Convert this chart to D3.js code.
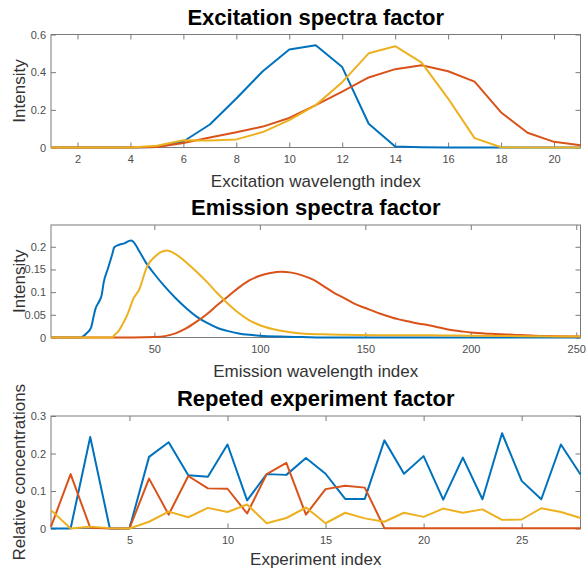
<!DOCTYPE html>
<html>
<head>
<meta charset="utf-8">
<script src="https://cdn.jsdelivr.net/npm/d3@7"></script>
<style>
  html, body { margin: 0; padding: 0; background: #fff; }
  svg { display: block; }
  text { font-family: "Liberation Sans", Arial, Helvetica, sans-serif; }
</style>
</head>
<body>
<script>
// ---------- DATA ----------
// Excitation spectra factor
const exIdx    = [1,2,3,4,5,6,7,8,9,10,11,12,13,14,15,16,17,18,19,20,21];
const exBlue   = [0,0,0,0,0.003,0.032,0.122,0.26,0.405,0.52,0.543,0.427,0.126,0.005,0.001,0,0,0,0,0,0];
const exRed    = [0,0,0,0,0.003,0.024,0.053,0.081,0.111,0.157,0.225,0.297,0.372,0.416,0.437,0.405,0.35,0.186,0.078,0.03,0.012];
const exYellow = [0,0,0,0,0.009,0.038,0.037,0.043,0.082,0.145,0.225,0.347,0.5,0.538,0.451,0.26,0.05,0.001,0,0,0];
const exTicksX = [2,4,6,8,10,12,14,16,18,20];
const exTicksY = [0,0.2,0.4,0.6];

// Emission spectra factor
const emBlueX = [1,15,16,18,20,21,22,24,25,26,28,30,31,33,36,38,39,40,43,46,50,55,60,65,70,75,80,85,90,95,100,110,120,130,252];
const emBlueY = [0,0,0.002,0.01,0.022,0.042,0.062,0.081,0.093,0.122,0.152,0.183,0.199,0.204,0.208,0.213,0.214,0.211,0.189,0.165,0.14,0.112,0.087,0.065,0.046,0.032,0.021,0.014,0.009,0.006,0.004,0.002,0.001,0,0];
const emRedX  = [1,40,50,55,60,65,70,75,80,85,90,95,100,105,110,115,120,125,130,135,140,145,150,155,160,165,170,175,180,185,190,195,200,210,220,230,240,252];
const emRedY  = [0,0,0.001,0.003,0.009,0.02,0.035,0.052,0.072,0.091,0.11,0.126,0.136,0.142,0.145,0.143,0.137,0.128,0.114,0.099,0.087,0.074,0.065,0.056,0.048,0.041,0.036,0.031,0.027,0.022,0.017,0.014,0.011,0.008,0.006,0.004,0.003,0.002];
const emYelX  = [1,30,31,33,35,37,38,40,43,45,46,47,50,53,56,60,65,70,75,80,85,90,95,100,110,120,130,140,160,180,200,225,252];
const emYelY  = [0,0,0.005,0.014,0.03,0.048,0.06,0.085,0.108,0.136,0.15,0.16,0.177,0.188,0.192,0.184,0.166,0.145,0.122,0.097,0.074,0.054,0.038,0.027,0.015,0.009,0.007,0.006,0.005,0.005,0.004,0.003,0.002];
const emTicksX = [50,100,150,200,250];
const emTicksY = [0,0.05,0.1,0.15,0.2];

// Repeted experiment factor
const expIdx    = [1,2,3,4,5,6,7,8,9,10,11,12,13,14,15,16,17,18,19,20,21,22,23,24,25,26,27,28];
const expBlue   = [0,0,0.244,0,0,0.191,0.23,0.142,0.138,0.224,0.075,0.145,0.143,0.188,0.146,0.079,0.079,0.235,0.146,0.193,0.077,0.189,0.078,0.254,0.127,0.078,0.224,0.144];
const expRed    = [0.005,0.145,0.002,0,0,0.133,0.037,0.14,0.107,0.106,0.04,0.145,0.175,0.037,0.105,0.114,0.109,0.001,0.001,0.001,0.001,0.001,0.001,0.001,0.001,0.001,0.001,0.001];
const expYellow = [0.049,0,0.005,0.001,0,0.018,0.045,0.03,0.055,0.044,0.064,0.014,0.028,0.056,0.014,0.042,0.027,0.018,0.042,0.031,0.053,0.042,0.051,0.023,0.024,0.054,0.044,0.028];
const expTicksX = [5,10,15,20,25];
const expTicksY = [0,0.1,0.2,0.3];

const colors = ["#0072BD", "#D95319", "#EDB120"];

// ---------- DRAW ----------
const W = 587, H = 569;
const svg = d3.select("body").append("svg").attr("width", W).attr("height", H);

const L = 51, R = 580.5;
const frameColor = "#7a7a7a", tickText = "#4d4d4d", labelColor = "#333333";

function panel(opt) {
  const x = d3.scaleLinear().domain(opt.xDomain).range([L, R]);
  const y = d3.scaleLinear().domain(opt.yDomain).range([opt.bottom, opt.top]);
  const g = svg.append("g");

  // title
  g.append("text").attr("x", (L + R) / 2).attr("y", opt.top - 10)
    .attr("text-anchor", "middle").attr("font-size", 22).attr("font-weight", "bold")
    .attr("fill", "#000").text(opt.title);

  // frame
  g.append("rect").attr("x", L).attr("y", opt.top)
    .attr("width", R - L).attr("height", opt.bottom - opt.top)
    .attr("fill", "none").attr("stroke", frameColor).attr("stroke-width", 1);

  const fmt = d => String(d);
  const ax = [
    [d3.axisBottom(x).tickValues(opt.xTicks).tickFormat(fmt), `translate(0,${opt.bottom})`],
    [d3.axisTop(x).tickValues(opt.xTicks).tickFormat(""), `translate(0,${opt.top})`],
    [d3.axisLeft(y).tickValues(opt.yTicks).tickFormat(fmt), `translate(${L},0)`],
    [d3.axisRight(y).tickValues(opt.yTicks).tickFormat(""), `translate(${R},0)`]
  ];
  ax.forEach(([a, tr], i) => {
    a.tickSizeInner(-5).tickSizeOuter(0).tickPadding(i === 0 ? 8 : 5);
    const gg = g.append("g").attr("transform", tr).call(a);
    gg.select(".domain").remove();
    gg.selectAll(".tick line").attr("stroke", frameColor);
    gg.selectAll(".tick text").attr("fill", tickText).attr("font-size", 11)
      .attr("font-family", '"Liberation Sans", Arial, sans-serif');
  });

  // axis labels
  g.append("text").attr("x", (L + R) / 2).attr("y", opt.bottom + (opt.xLabelGap || 39))
    .attr("text-anchor", "middle").attr("font-size", 17).attr("fill", labelColor)
    .text(opt.xLabel);
  g.append("text")
    .attr("transform", `translate(25,${(opt.top + opt.bottom) / 2}) rotate(-90)`)
    .attr("text-anchor", "middle").attr("font-size", 17).attr("fill", labelColor)
    .text(opt.yLabel);

  // lines
  const line = d3.line().x(d => x(d[0])).y(d => y(d[1])).curve(opt.curve || d3.curveLinear);
  opt.series.forEach((s, i) => {
    g.append("path").datum(s).attr("d", line)
      .attr("fill", "none").attr("stroke", colors[i]).attr("stroke-width", 2)
      .attr("stroke-linejoin", "round");
  });
}

const zip = (a, b) => a.map((v, i) => [v, b[i]]);

panel({
  title: "Excitation spectra factor", top: 34.5, bottom: 147.5,
  xDomain: [1, 21], yDomain: [0, 0.6], xTicks: exTicksX, yTicks: exTicksY,
  xLabel: "Excitation wavelength index", yLabel: "Intensity",
  series: [zip(exIdx, exBlue), zip(exIdx, exRed), zip(exIdx, exYellow)]
});

panel({
  title: "Emission spectra factor", top: 225, bottom: 337.5,
  xDomain: [1, 252], yDomain: [0, 0.248], xTicks: emTicksX, yTicks: emTicksY,
  xLabel: "Emission wavelength index", yLabel: "Intensity",
  curve: d3.curveMonotoneX,
  series: [zip(emBlueX, emBlueY), zip(emRedX, emRedY), zip(emYelX, emYelY)]
});

panel({
  title: "Repeted experiment factor", top: 416, bottom: 528.5,
  xDomain: [1, 28], yDomain: [0, 0.3], xTicks: expTicksX, yTicks: expTicksY,
  xLabel: "Experiment index", yLabel: "Relative concentrations", xLabelGap: 36,
  series: [zip(expIdx, expBlue), zip(expIdx, expRed), zip(expIdx, expYellow)]
});
</script>
</body>
</html>
